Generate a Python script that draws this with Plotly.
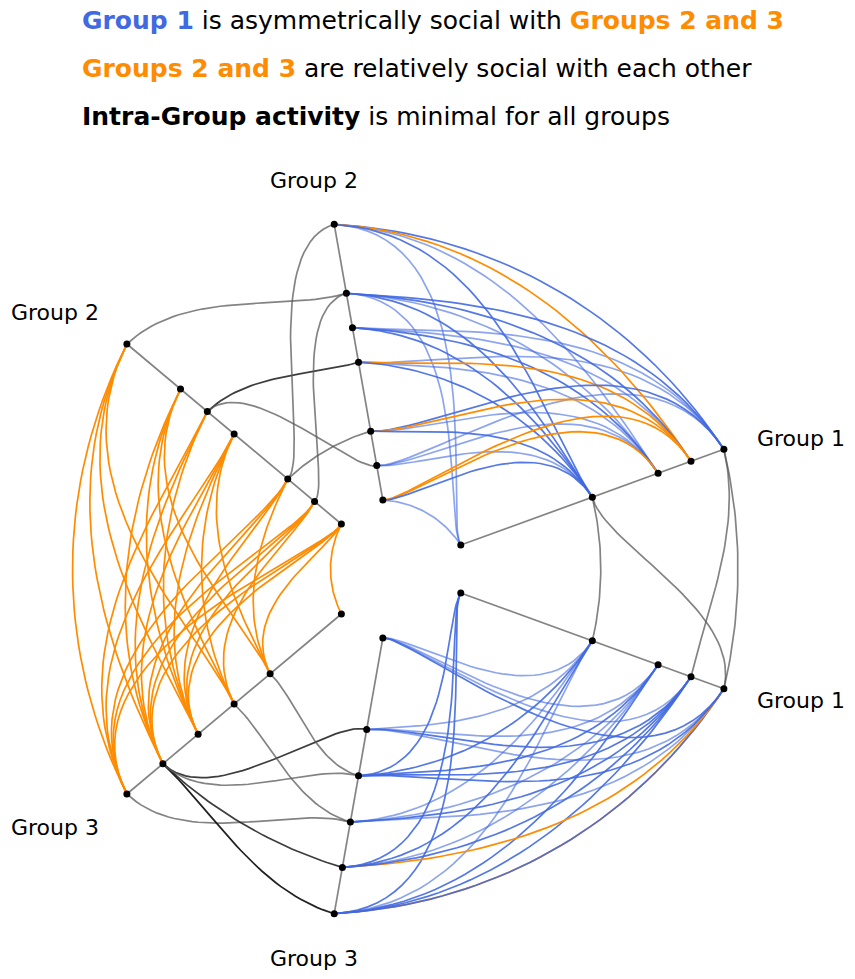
import numpy as np
import plotly.graph_objects as go

# node radii (distance along the axis) for each group
g1_r = [0, 140, 210, 245, 280]
g2_r = [0, 35, 70, 140, 175, 210, 280]
g3_r = [0, 93, 140, 187, 233, 280]

# axis angles (deg), each group drawn twice
ax_angles = {'g1a': 20, 'g1b': -20, 'g2a': 100, 'g2b': 140, 'g3a': 220, 'g3b': 260}
radii = {'g1a': g1_r, 'g1b': g1_r, 'g2a': g2_r, 'g2b': g2_r, 'g3a': g3_r, 'g3b': g3_r}

# edges: (node from, node to, colour kind)
e_g2_g1 = [(6,4,'b'),(6,3,'o'),(6,1,'b'),(6,0,'l'),(6,2,'l'),
           (5,4,'b'),(5,3,'b'),(5,2,'l'),(5,1,'b'),(5,0,'l'),
           (4,4,'l'),(4,3,'l'),(4,2,'b'),(4,1,'b'),
           (3,4,'l'),(3,3,'o'),(3,2,'l'),(3,1,'b'),
           (2,4,'b'),(2,3,'o'),(2,1,'b'),(2,2,'l'),
           (1,2,'l'),(1,1,'l'),(1,4,'l'),
           (0,3,'o'),(0,2,'o'),(0,1,'b'),(0,0,'l')]
e_g3_g1 = [(5,4,'o'),(5,3,'b'),(5,2,'b'),(5,1,'l'),(5,0,'b'),(5,4,'b'),
           (4,4,'o'),(4,3,'b'),(4,2,'l'),(4,1,'b'),(4,0,'b'),
           (3,4,'l'),(3,3,'b'),(3,2,'l'),(3,1,'l'),
           (2,4,'b'),(2,3,'b'),(2,2,'b'),(2,1,'b'),(2,0,'b'),
           (1,4,'l'),(1,3,'b'),(1,2,'l'),(1,1,'l'),
           (0,4,'b'),(0,3,'l'),(0,2,'l'),(0,1,'l')]
e_g2_g3 = [(6,5),(6,4),(6,3),(6,2),(5,4),(5,3),(5,2),(5,1),(4,5),(4,4),(4,3),
           (3,5),(3,4),(3,3),(3,2),(3,1),(2,5),(2,4),(2,3),(2,1),
           (1,5),(1,4),(1,3),(1,2),(0,5),(0,4),(0,3),(0,1),(0,0)]
e_g2_in = [(6,5,'g'),(4,3,'d'),(4,1,'g'),(2,6,'g'),(1,5,'g'),(2,2,'g')]
e_g3_in = [(5,3,'g'),(4,4,'d'),(4,5,'k'),(4,1,'d'),(4,2,'g'),(2,3,'g'),(1,2,'g')]
e_g1_in = [(4,4,'g'),(4,3,'g'),(1,1,'g'),(1,4,'g')]

colors = {'b': 'rgba(65,105,225,0.9)', 'l': 'rgba(65,105,225,0.6)', 'o': '#ff8c00',
          'g': 'rgba(90,90,90,0.75)', 'd': 'rgba(40,40,40,0.9)', 'k': 'rgba(20,20,20,0.95)'}

cx, cy, r0 = 395, 569, 70


def pt(a, r):
    t = np.radians(a)
    return cx + (r0 + r) * np.cos(t), cy - (r0 + r) * np.sin(t)


def curve(ax1, i, ax2, j):
    a1, a2 = ax_angles[ax1], ax_angles[ax2]
    d = a2 - a1
    if d > 180: d -= 360
    if d < -180: d += 360
    ra, rb = radii[ax1][i], radii[ax2][j]
    p0 = np.array(pt(a1, ra)); p3 = np.array(pt(a1 + d, rb))
    p1 = np.array(pt(a1 + d / 3, ra)); p2 = np.array(pt(a1 + 2 * d / 3, rb))
    t = np.linspace(0, 1, 40)[:, None]
    b = (1-t)**3*p0 + 3*(1-t)**2*t*p1 + 3*(1-t)*t**2*p2 + t**3*p3
    return b[:, 0], b[:, 1]


fig = go.Figure()

def add_edge(ax1, i, ax2, j, c, w=1.7):
    x, y = curve(ax1, i, ax2, j)
    fig.add_trace(go.Scatter(x=x, y=y, mode='lines', line=dict(color=colors[c], width=w),
                             hoverinfo='skip', showlegend=False))

# axes
for k, a in ax_angles.items():
    x0, y0 = pt(a, 0); x1, y1 = pt(a, radii[k][-1])
    fig.add_trace(go.Scatter(x=[x0, x1], y=[y0, y1], mode='lines',
                             line=dict(color='rgba(90,90,90,0.75)', width=1.7),
                             hoverinfo='skip', showlegend=False))

for i, j, c in e_g2_in: add_edge('g2b', i, 'g2a', j, c)
for i, j, c in e_g3_in: add_edge('g3a', i, 'g3b', j, c)
for i, j, c in e_g1_in: add_edge('g1a', i, 'g1b', j, c)
for i, j, c in e_g2_g1:
    if c == 'l': add_edge('g2a', i, 'g1a', j, c)
for i, j, c in e_g3_g1:
    if c == 'l': add_edge('g3b', i, 'g1b', j, c)
for i, j, c in e_g2_g1:
    if c != 'l': add_edge('g2a', i, 'g1a', j, c)
for i, j, c in e_g3_g1:
    if c != 'l': add_edge('g3b', i, 'g1b', j, c)
for i, j in e_g2_g3: add_edge('g2b', i, 'g3a', j, 'o')

# nodes
nx, ny = [], []
for k, a in ax_angles.items():
    for r in radii[k]:
        x, y = pt(a, r); nx.append(x); ny.append(y)
fig.add_trace(go.Scatter(x=nx, y=ny, mode='markers', marker=dict(color='black', size=7),
                         hoverinfo='skip', showlegend=False))

labels = [('Group 1', 801, 438), ('Group 1', 801, 700), ('Group 2', 314, 180),
          ('Group 2', 55, 312), ('Group 3', 55, 827), ('Group 3', 314, 958)]
ann = [dict(x=x, y=y, text=t, showarrow=False, xref='x', yref='y',
            font=dict(size=22, color='black')) for t, x, y in labels]
titles = ["<b><span style='color:#4169e1'>Group 1</span></b> is asymmetrically social with "
          "<b><span style='color:#ff8c00'>Groups 2 and 3</span></b>",
          "<b><span style='color:#ff8c00'>Groups 2 and 3</span></b> are relatively social with each other",
          "<b>Intra-Group activity</b> is minimal for all groups"]
for k, t in enumerate(titles):
    ann.append(dict(x=80, y=20 + 48 * k, text=t, showarrow=False, xref='x', yref='y',
                    xanchor='left', font=dict(size=25, color='black')))

# page body has an 8px margin, so shift the ranges to keep pixel coordinates
fig.update_layout(width=855, height=979, margin=dict(l=0, r=0, t=0, b=0),
                  plot_bgcolor='white', paper_bgcolor='white',
                  font=dict(family='DejaVu Sans'), annotations=ann,
                  xaxis=dict(range=[8, 863], visible=False),
                  yaxis=dict(range=[987, 8], visible=False))
fig.write_html("out.html")
